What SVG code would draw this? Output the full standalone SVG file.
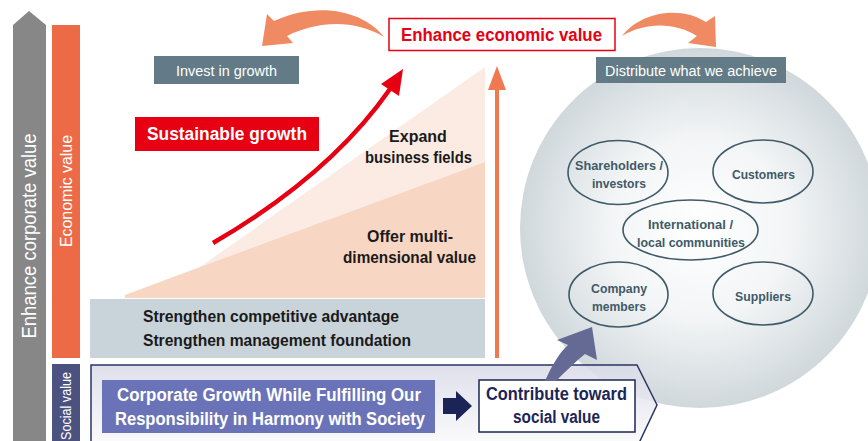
<svg xmlns="http://www.w3.org/2000/svg" width="868" height="441" viewBox="0 0 868 441">
<defs>
<radialGradient id="circ" cx="0.5" cy="0.5" r="0.5">
<stop offset="0" stop-color="#ffffff"/>
<stop offset="0.5" stop-color="#f3f5f6"/>
<stop offset="1" stop-color="#d0d8dc"/>
</radialGradient>
<linearGradient id="soc" x1="0" y1="0" x2="0" y2="1">
<stop offset="0" stop-color="#d9dae7"/>
<stop offset="1" stop-color="#fafafc"/>
</linearGradient>
<style>
text{font-family:"Liberation Sans",Arial,sans-serif}
.b{font-weight:bold}
.w{fill:#ffffff}
.k{fill:#1a1a1a}
.el{fill:none;stroke:#3f5a68;stroke-width:1.6}
.et{fill:#3f5a68;font-weight:bold;font-size:13px}
.orange{fill:#f08a62}
</style>
</defs>
<rect width="868" height="441" fill="#ffffff"/>

<!-- big circle -->
<g id="stakeholders-circle">
<circle cx="700" cy="228" r="180" fill="url(#circ)"/>
</g>

<!-- left vertical bars -->
<g id="corporate-value-arrow">
<polygon points="29,11 46,25 46,441 13,441 13,25" fill="#878787"/>
<text class="w" font-size="20" transform="translate(36,236) rotate(-90)" text-anchor="middle" textLength="205" lengthAdjust="spacingAndGlyphs">Enhance corporate value</text>
</g>
<g id="economic-value-bar">
<rect x="52" y="25" width="28" height="333" fill="#ec6b46"/>
<text class="w" font-size="17" transform="translate(72,191) rotate(-90)" text-anchor="middle" textLength="112" lengthAdjust="spacingAndGlyphs">Economic value</text>
</g>
<g id="social-value-bar">
<rect x="52" y="364" width="28" height="77" fill="#4b5280"/>
<text class="w" font-size="14" transform="translate(71,406) rotate(-90)" text-anchor="middle" textLength="68" lengthAdjust="spacingAndGlyphs">Social value</text>
</g>

<!-- growth triangles -->
<g id="growth-area">
<polygon points="200,267 485,67 485,162" fill="#fcebe3"/>
<polygon points="125,295 200,267 485,162 485,298 125,298" fill="#f8d6c4"/>
<text class="b k" font-size="16" x="418" y="142" text-anchor="middle">Expand</text>
<text class="b k" font-size="16" x="418.5" y="163" text-anchor="middle" textLength="107" lengthAdjust="spacingAndGlyphs">business fields</text>
<text class="b k" font-size="16" x="410" y="242" text-anchor="middle" textLength="86" lengthAdjust="spacingAndGlyphs">Offer multi-</text>
<text class="b k" font-size="16" x="409.5" y="263" text-anchor="middle" textLength="133" lengthAdjust="spacingAndGlyphs">dimensional value</text>
</g>

<g id="foundation-band">
<rect x="90" y="299" width="395" height="59" fill="#c8d3da"/>
<text class="b k" font-size="16" x="143" y="322" textLength="256" lengthAdjust="spacingAndGlyphs">Strengthen competitive advantage</text>
<text class="b k" font-size="16" x="143" y="346" textLength="268" lengthAdjust="spacingAndGlyphs">Strengthen management foundation</text>
</g>

<g id="invest-label">
<rect x="154" y="56" width="145" height="28" fill="#637b86"/>
<text class="w" font-size="14" x="226.5" y="76" text-anchor="middle" textLength="101" lengthAdjust="spacingAndGlyphs">Invest in growth</text>
</g>

<g id="distribute-label">
<rect x="596" y="57" width="190" height="26" fill="#637b86"/>
<text class="w" font-size="14" x="691" y="75.5" text-anchor="middle" textLength="172" lengthAdjust="spacingAndGlyphs">Distribute what we achieve</text>
</g>

<g id="sustainable-growth">
<rect x="135" y="117" width="184" height="34" fill="#e60012"/>
<text class="b w" font-size="18" x="227" y="140" text-anchor="middle" textLength="160" lengthAdjust="spacingAndGlyphs">Sustainable growth</text>
</g>

<g id="enhance-economic-value">
<rect x="389" y="18.5" width="226" height="32" fill="#ffffff" stroke="#e60012" stroke-width="1.5"/>
<text class="b" fill="#e60012" font-size="18" x="501.5" y="41" text-anchor="middle" textLength="201" lengthAdjust="spacingAndGlyphs">Enhance economic value</text>
</g>

<!-- stakeholders -->
<g id="shareholders">
<ellipse class="el" cx="618" cy="172.5" rx="50" ry="32"/>
<text class="et" x="619" y="170" text-anchor="middle" textLength="88" lengthAdjust="spacingAndGlyphs">Shareholders /</text>
<text class="et" x="619" y="188" text-anchor="middle" textLength="54" lengthAdjust="spacingAndGlyphs">investors</text>
</g>
<g id="customers">
<ellipse class="el" cx="763" cy="171.5" rx="50" ry="31.5"/>
<text class="et" x="763.5" y="179" text-anchor="middle" textLength="63" lengthAdjust="spacingAndGlyphs">Customers</text>
</g>
<g id="communities">
<ellipse class="el" cx="690.5" cy="230" rx="67.5" ry="30"/>
<text class="et" x="690.5" y="229" text-anchor="middle" textLength="85" lengthAdjust="spacingAndGlyphs">International /</text>
<text class="et" x="691" y="247" text-anchor="middle" textLength="108" lengthAdjust="spacingAndGlyphs">local communities</text>
</g>
<g id="company-members">
<ellipse class="el" cx="618.5" cy="294.5" rx="49.5" ry="32.5"/>
<text class="et" x="619" y="293" text-anchor="middle" textLength="56" lengthAdjust="spacingAndGlyphs">Company</text>
<text class="et" x="619" y="311" text-anchor="middle" textLength="54" lengthAdjust="spacingAndGlyphs">members</text>
</g>
<g id="suppliers">
<ellipse class="el" cx="763" cy="293.5" rx="50" ry="31.5"/>
<text class="et" x="763" y="301" text-anchor="middle" textLength="56" lengthAdjust="spacingAndGlyphs">Suppliers</text>
</g>

<!-- social section -->
<g id="social-frame">
<path d="M91,365 L637,365 L657,405 L639,443 L91,443 Z" fill="url(#soc)" fill-opacity="0.85" stroke="#2b3565" stroke-width="1.5"/>
</g>
<g id="corporate-growth">
<rect x="102" y="380" width="333" height="53" fill="#6a73b8"/>
<text class="b w" font-size="18" x="269" y="401" text-anchor="middle" textLength="304" lengthAdjust="spacingAndGlyphs">Corporate Growth While Fulfilling Our</text>
<text class="b w" font-size="18" x="270" y="425" text-anchor="middle" textLength="310" lengthAdjust="spacingAndGlyphs">Responsibility in Harmony with Society</text>
</g>
<g id="contribute-social">
<rect x="479" y="380" width="156" height="52" fill="#ffffff" stroke="#1c2656" stroke-width="1.5"/>
<text class="b" fill="#1c2656" font-size="18" x="556.5" y="400" text-anchor="middle" textLength="141" lengthAdjust="spacingAndGlyphs">Contribute toward</text>
<text class="b" fill="#1c2656" font-size="18" x="556.5" y="423" text-anchor="middle" textLength="87" lengthAdjust="spacingAndGlyphs">social value</text>
</g>

<!-- connectors -->
<g id="connectors">
<path d="M213,243 Q330,175 390,89" fill="none" stroke="#e60012" stroke-width="4.5"/>
<polygon points="403,69 381,84 399,96" fill="#e60012"/>
<line x1="497" y1="358" x2="497" y2="88" stroke="#ef7a52" stroke-width="4"/>
<polygon points="497,66 506,90 488,90" fill="#ef7a52"/>
<path class="orange" d="M384,37 C365,12 320,0 274,21 L267,14 L262,46 L293,43 L287,36 C320,20 355,20 384,37 Z"/>
<path class="orange" d="M622,36 C640,12 680,5 706,22 L715,16 L716,47 L688,43 L697,36 C675,22 645,22 622,36 Z"/>
<path d="M443,398 L456,398 L456,391 L472,406 L456,421 L456,414 L443,414 Z" fill="#1a2456"/>
<path d="M545,381 C552,365 560,352 568,345 L557,340 L592,327 L597,360 L585,354 C575,362 565,372 556,381 Z" fill="#646a94"/>
</g>
</svg>
